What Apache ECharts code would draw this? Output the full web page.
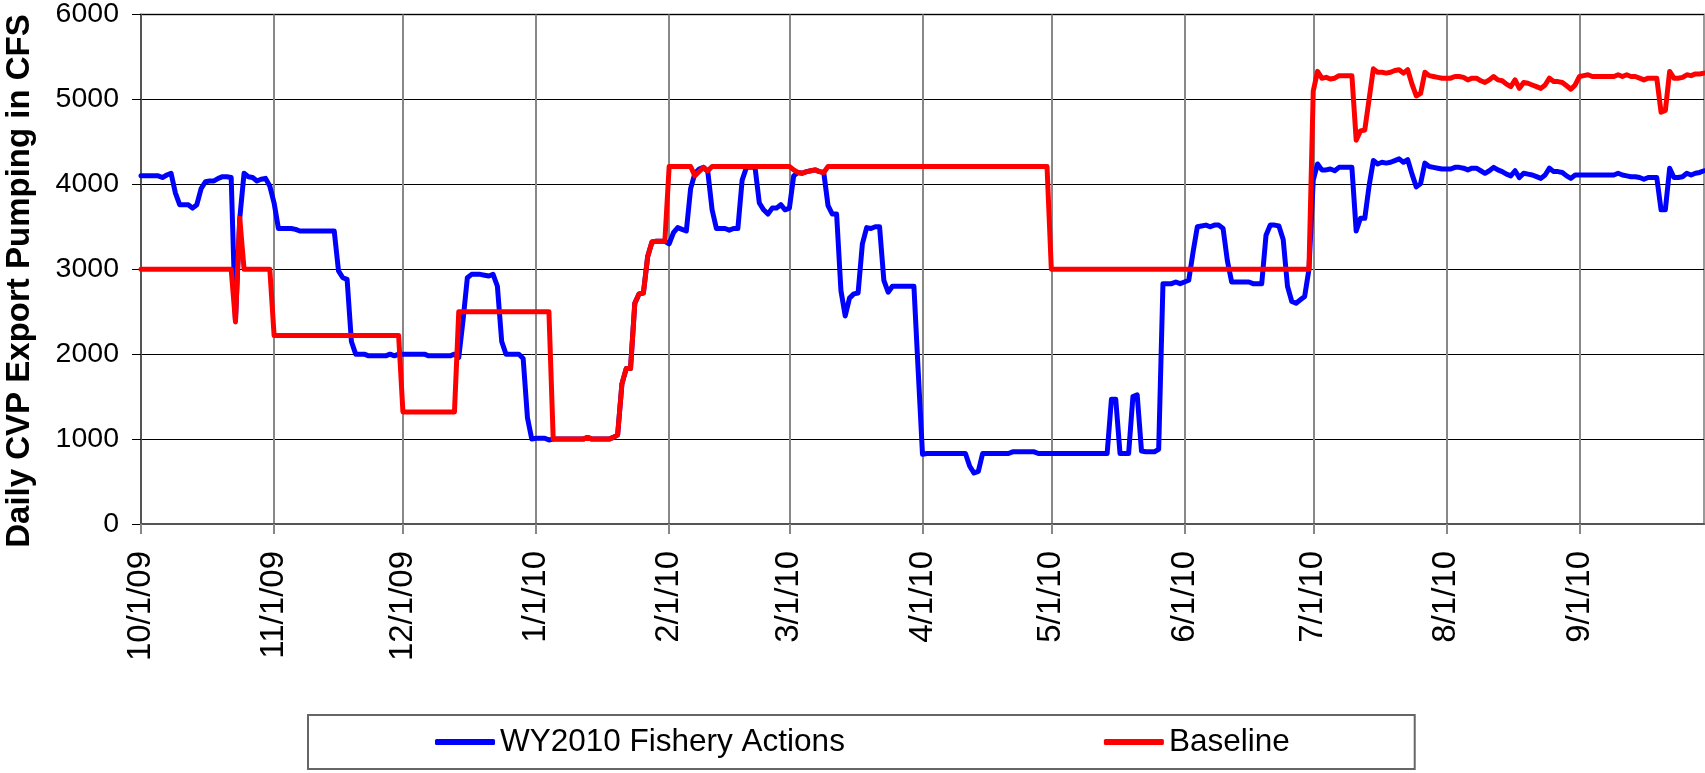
<!DOCTYPE html>
<html>
<head>
<meta charset="utf-8">
<script src="https://cdn.jsdelivr.net/npm/echarts@6/dist/echarts.min.js"></script>
<style>
html,body{margin:0;padding:0;background:#fff;}
#c{width:1705px;height:773px;}
</style>
</head>
<body>
<div id="c"></div>
<script>
// ---- Data (daily values) ----
const seriesNames = ['WY2010 Fishery Actions', 'Baseline'];
const yTicks = [0, 1000, 2000, 3000, 4000, 5000, 6000];
const yTitle = 'Daily CVP Export Pumping in CFS';

const fisheryOct = [4100,4100,4100,4100,4100,4080,4110,4130,3900,3760,3760,3760,3720,3760,3950,4030,4040,4040,4070,4090,4090,4080,2400,3600,4130,4090,4080,4040,4060,4070,3980];
const fisheryNov = [3780,3480,3480,3480,3480,3470,3450,3450,3450,3450,3450,3450,3450,3450,3450,2980,2900,2880,2150,2000,2000,2000,1980,1980,1980,1980,1980,2000,1980,2000];
const fisheryDec = [2000,2000,2000,2000,2000,2000,1980,1980,1980,1980,1980,1980,2000,1960,2400,2900,2940,2940,2940,2930,2920,2940,2800,2150,2000,2000,2000,2000,1950,1250,1000];
const fisheryJan = [1010,1010,1010,990,1000,1000,1000,1000,1000,1000,1000,1000,1020,1000,1000,1000,1000,1000,1020,1050,1650,1830,1830,2600,2710,2720,3150,3320,3330,3330,3330];
const fisheryFeb = [3300,3430,3490,3470,3450,3950,4130,4180,4200,4150,3700,3480,3480,3480,3460,3480,3480,4050,4200,4200,4200,3780,3700,3650,3720,3720,3760,3700];
const fisheryMar = [3720,4100,4140,4130,4150,4160,4170,4150,4140,3750,3650,3650,2750,2450,2660,2710,2720,3300,3490,3480,3500,3500,2870,2730,2800,2800,2800,2800,2800,2800,1800];
const fisheryApr = [820,830,830,830,830,830,830,830,830,830,830,680,600,620,830,830,830,830,830,830,830,850,850,850,850,850,850,830,830,830];
const fisheryMay = [830,830,830,830,830,830,830,830,830,830,830,830,830,830,1470,1470,830,830,830,1500,1520,860,850,850,850,880,2830,2830,2830,2850,2830];
const fisheryJun = [2850,2870,3200,3500,3510,3520,3500,3520,3520,3480,3100,2850,2850,2850,2850,2850,2830,2830,2830,3400,3520,3520,3510,3350,2800,2620,2600,2640,2680,3000];
const fisheryJul = [4050,4240,4170,4170,4180,4160,4200,4200,4200,4200,3450,3600,3600,3980,4280,4240,4260,4250,4260,4280,4300,4260,4290,4120,3970,4010,4250,4210,4200,4190,4180];
const fisheryAug = [4180,4180,4200,4200,4190,4170,4190,4190,4160,4130,4160,4200,4170,4150,4120,4100,4160,4080,4130,4120,4110,4090,4070,4110,4190,4150,4150,4140,4100,4070,4110];
const fisherySep = [4110,4110,4110,4110,4110,4110,4110,4110,4110,4130,4110,4100,4090,4090,4080,4060,4080,4080,4080,3700,3700,4190,4080,4080,4090,4130,4110,4130,4140,4160];

const baselineOct = [3000,3000,3000,3000,3000,3000,3000,3000,3000,3000,3000,3000,3000,3000,3000,3000,3000,3000,3000,3000,3000,3000,2380,3600,3000,3000,3000,3000,3000,3000,3000];
const baselineNov = [2220,2220,2220,2220,2220,2220,2220,2220,2220,2220,2220,2220,2220,2220,2220,2220,2220,2220,2220,2220,2220,2220,2220,2220,2220,2220,2220,2220,2220,2220];
const baselineDec = [1320,1320,1320,1320,1320,1320,1320,1320,1320,1320,1320,1320,1320,2500,2500,2500,2500,2500,2500,2500,2500,2500,2500,2500,2500,2500,2500,2500,2500,2500,2500];
const baselineJan = [2500,2500,2500,2500,1000,1000,1000,1000,1000,1000,1000,1000,1020,1000,1000,1000,1000,1000,1020,1050,1650,1830,1830,2600,2710,2720,3150,3320,3330,3330,3330];
const baselineFeb = [4210,4210,4210,4210,4210,4210,4100,4150,4200,4160,4210,4210,4210,4210,4210,4210,4210,4210,4210,4210,4210,4210,4210,4210,4210,4210,4210,4210];
const baselineMar = [4210,4170,4140,4130,4150,4160,4170,4150,4140,4210,4210,4210,4210,4210,4210,4210,4210,4210,4210,4210,4210,4210,4210,4210,4210,4210,4210,4210,4210,4210,4210];
const baselineApr = [4210,4210,4210,4210,4210,4210,4210,4210,4210,4210,4210,4210,4210,4210,4210,4210,4210,4210,4210,4210,4210,4210,4210,4210,4210,4210,4210,4210,4210,4210];
const baselineMay = [3000,3000,3000,3000,3000,3000,3000,3000,3000,3000,3000,3000,3000,3000,3000,3000,3000,3000,3000,3000,3000,3000,3000,3000,3000,3000,3000,3000,3000,3000,3000];
const baselineJun = [3000,3000,3000,3000,3000,3000,3000,3000,3000,3000,3000,3000,3000,3000,3000,3000,3000,3000,3000,3000,3000,3000,3000,3000,3000,3000,3000,3000,3000,3000];
const baselineJul = [5100,5330,5250,5260,5240,5250,5280,5280,5280,5280,4520,4630,4640,5000,5360,5320,5320,5310,5320,5340,5350,5310,5350,5180,5040,5070,5320,5280,5270,5260,5250];
const baselineAug = [5250,5250,5270,5270,5260,5230,5250,5250,5220,5200,5230,5270,5230,5220,5180,5150,5230,5130,5200,5190,5170,5150,5130,5170,5250,5210,5210,5200,5160,5120,5170];
const baselineSep = [5270,5280,5290,5270,5270,5270,5270,5270,5270,5290,5270,5290,5270,5270,5250,5230,5250,5250,5250,4850,4870,5330,5250,5250,5260,5290,5280,5300,5300,5310];

// Categories: every day of water year 2010 (10/1/09 .. 9/30/10)
const categories = [];
(function(){
  let t = Date.UTC(2009, 9, 1), end = Date.UTC(2010, 8, 30);
  while (t <= end) {
    const d = new Date(t);
    categories.push((d.getUTCMonth()+1) + '/' + d.getUTCDate() + '/' + String(d.getUTCFullYear()).slice(2));
    t += 86400000;
  }
})();

const fishery = [].concat(fisheryOct, fisheryNov, fisheryDec, fisheryJan, fisheryFeb, fisheryMar,
                          fisheryApr, fisheryMay, fisheryJun, fisheryJul, fisheryAug, fisherySep);
const baseline = [].concat(baselineOct, baselineNov, baselineDec, baselineJan, baselineFeb, baselineMar,
                           baselineApr, baselineMay, baselineJun, baselineJul, baselineAug, baselineSep);

const isMonthStart = function(idx, val){ return String(val).split('/')[1] === '1'; };
const FONT = '"Liberation Sans", Arial, sans-serif';

const chart = echarts.init(document.getElementById('c'), null, {renderer: 'canvas'});
chart.setOption({
  animation: false,
  backgroundColor: '#fff',
  grid: {left: 141, right: 1, top: 12, bottom: 249, show: true, borderColor: '#999', borderWidth: 2, containLabel: false},
  graphic: [{
    type: 'text', x: 20, y: 281, rotation: Math.PI / 2, silent: true,
    style: {text: yTitle, fontSize: 33, fontWeight: 'bold', fontFamily: FONT, fill: '#000', align: 'center', verticalAlign: 'middle'}
  }],
  xAxis: {
    type: 'category', data: categories, boundaryGap: false,
    axisLine: {show: true, lineStyle: {color: '#555', width: 2}},
    axisTick: {show: true, interval: isMonthStart, length: 10, lineStyle: {color: '#888', width: 2}},
    axisLabel: {interval: isMonthStart, rotate: 90, margin: 27, fontSize: 33, color: '#000', fontFamily: FONT},
    splitLine: {show: true, interval: isMonthStart, lineStyle: {color: '#888', width: 2}}
  },
  yAxis: {
    type: 'value', min: yTicks[0], max: yTicks[yTicks.length-1], interval: 1000,
    axisLine: {show: true, lineStyle: {color: '#555', width: 2}},
    axisTick: {show: true, length: 9, lineStyle: {color: '#000', width: 1}},
    axisLabel: {fontSize: 28.5, margin: 22, color: '#000', fontFamily: FONT, formatter: function(v){ return String(v); }},
    splitLine: {show: true, lineStyle: {color: '#000', width: 1}}
  },
  legend: {
    left: 308, top: 715,
    padding: [11, 125, 11, 127],
    itemGap: 259, itemWidth: 60, itemHeight: 6,
    icon: 'roundRect',
    borderColor: '#666', borderWidth: 2,
    textStyle: {fontSize: 31.5, color: '#000', fontFamily: FONT},
    data: seriesNames
  },
  series: [
    {name: seriesNames[0], type: 'line', data: fishery, showSymbol: false, symbol: 'none',
     lineStyle: {color: '#0000FF', width: 5, join: 'round', cap: 'round'}, itemStyle: {color: '#0000FF'}, silent: true},
    {name: seriesNames[1], type: 'line', data: baseline, showSymbol: false, symbol: 'none',
     lineStyle: {color: '#FF0000', width: 5, join: 'round', cap: 'round'}, itemStyle: {color: '#FF0000'}, silent: true}
  ]
});
</script>
</body>
</html>
